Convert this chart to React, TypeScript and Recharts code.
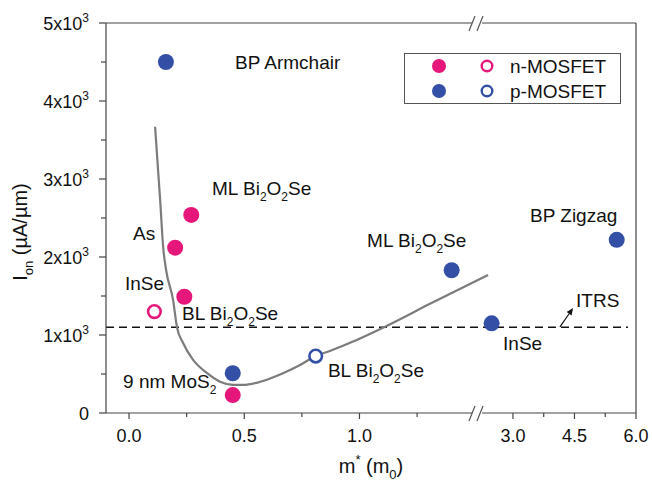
import React from "react";
import {
  ComposedChart,
  XAxis,
  YAxis,
  Scatter,
  Line,
  ReferenceLine,
  ReferenceDot,
  Legend,
} from "recharts";

// m* (in m0) and Ion (µA/µm)
const nFilled = [
  { name: "ML Bi2O2Se", m: 0.27, ion: 2540 },
  { name: "As", m: 0.2, ion: 2120 },
  { name: "BL Bi2O2Se", m: 0.24, ion: 1490 },
  { name: "9 nm MoS2", m: 0.45, ion: 230 },
];
const nOpen = [{ name: "InSe", m: 0.11, ion: 1300 }];
const pFilled = [
  { name: "BP Armchair", m: 0.16, ion: 4500 },
  { name: "9 nm MoS2", m: 0.45, ion: 510 },
  { name: "ML Bi2O2Se", m: 1.4, ion: 1830 },
  { name: "InSe", m: 2.48, ion: 1150 },
  { name: "BP Zigzag", m: 5.53, ion: 2220 },
];
const pOpen = [{ name: "BL Bi2O2Se", m: 0.81, ion: 730 }];

// grey guide curve
const fitM = [0.113, 0.135, 0.148, 0.161, 0.191, 0.208, 0.234, 0.278, 0.339, 0.395, 0.451, 0.495, 0.569, 0.668, 0.742, 0.799, 0.885, 0.959, 1.12, 1.306, 1.558];
const fitIon = [3670, 2730, 2130, 1830, 1450, 1100, 900, 680, 510, 400, 360, 360, 400, 510, 615, 715, 810, 900, 1120, 1400, 1770];

const ITRS = 1100;

const xMajor = [0, 0.5, 1.0, 3.0, 4.5, 6.0];
const xMinor = [0.25, 0.75, 1.25, 3.75, 5.25];
const yMajor = [0, 1000, 2000, 3000, 4000, 5000];
const yMinor = [500, 1500, 2500, 3500, 4500];

const PINK = "#e6177b";
const BLUE = "#3350a6";
const FONT = "'Liberation Sans', Arial, sans-serif";

// broken x axis: 0..~1.5 linear, then 3.0..6.0 compressed
const X_MIN = -0.1;
const X_MAX = 2.2;
const BREAK_AX = 1.51;
const RIGHT_START = 1.666;
const RIGHT_SCALE = 0.178;
const toAxis = (m: number) => (m <= 2 ? m : RIGHT_START + (m - 3) * RIGHT_SCALE);
const fromAxis = (a: number) => (a <= 1.6 ? a : 3 + (a - RIGHT_START) / RIGHT_SCALE);

const pts = (arr: { m: number; ion: number }[]) => arr.map((d) => ({ x: toAxis(d.m), y: d.ion }));
const fitData = fitM.map((m, i) => ({ x: toAxis(m), y: fitIon[i] }));
const xTicks = [...xMajor, ...xMinor].map(toAxis).sort((a, b) => a - b);
const yTicks = [...yMajor, ...yMinor].sort((a, b) => a - b);

// text labels placed in axis coordinates; _{..} subscript, ^{..} superscript
const notes = [
  { text: "BP Armchair", ax: 0.46, y: 4410 },
  { text: "ML Bi_{2}O_{2}Se", ax: 0.36, y: 2795 },
  { text: "As", ax: 0.017, y: 2218 },
  { text: "InSe", ax: -0.018, y: 1577 },
  { text: "BL Bi_{2}O_{2}Se", ax: 0.23, y: 1192 },
  { text: "9 nm MoS_{2}", ax: -0.026, y: 320 },
  { text: "BL Bi_{2}O_{2}Se", ax: 0.863, y: 462 },
  { text: "ML Bi_{2}O_{2}Se", ax: 1.033, y: 2128 },
  { text: "BP Zigzag", ax: 1.74, y: 2449 },
  { text: "InSe", ax: 1.623, y: 808 },
  { text: "ITRS", ax: 1.94, y: 1359 },
];

function rich(str: string, size: number) {
  const parts: React.ReactNode[] = [];
  const re = /([_^])\{([^}]*)\}|([^_^]+)/g;
  let match: RegExpExecArray | null;
  let shift = 0;
  let k = 0;
  while ((match = re.exec(str))) {
    if (match[3]) {
      parts.push(
        <tspan key={k++} dy={-shift} fontSize={size}>
          {match[3]}
        </tspan>
      );
      shift = 0;
    } else {
      const s = match[1] === "_" ? Math.round(size * 0.3) : -Math.round(size * 0.45);
      parts.push(
        <tspan key={k++} dy={s - shift} fontSize={Math.round(size * 0.65)}>
          {match[2]}
        </tspan>
      );
      shift = s;
    }
  }
  return parts;
}

const Note = (props: any) => (
  <text x={props.cx} y={props.cy} fontFamily={FONT} fontSize={19} fill="#111">
    {rich(props.text, 19)}
  </text>
);

const BreakMark = (props: any) => {
  const { cx, cy } = props;
  return (
    <g>
      <rect x={cx - 5} y={cy - 2} width={10} height={4} fill="#fff" />
      <line x1={cx - 8} y1={cy + 8} x2={cx - 2} y2={cy - 7} stroke="#555" strokeWidth={1.2} />
      <line x1={cx} y1={cy + 8} x2={cx + 6} y2={cy - 7} stroke="#555" strokeWidth={1.2} />
    </g>
  );
};

const Arrow = (props: any) => {
  const { x1, y1, x2, y2 } = props;
  const ang = Math.atan2(y2 - y1, x2 - x1);
  const L = 7;
  const W = 3;
  const bx = x2 - L * Math.cos(ang);
  const by = y2 - L * Math.sin(ang);
  const px = -Math.sin(ang) * W;
  const py = Math.cos(ang) * W;
  return (
    <g>
      <line x1={x1} y1={y1} x2={bx} y2={by} stroke="#111" strokeWidth={1.2} />
      <polygon points={`${x2},${y2} ${bx + px},${by + py} ${bx - px},${by - py}`} fill="#111" />
    </g>
  );
};

const XTick = (props: any) => {
  const { x, y, payload } = props;
  const m = fromAxis(payload.value);
  const major = xMajor.some((v) => Math.abs(v - m) < 1e-3);
  return (
    <g>
      <line x1={x} x2={x} y1={y} y2={y + (major ? 6 : 4)} stroke="#444" strokeWidth={1.2} />
      {major && (
        <text x={x} y={y + 29} textAnchor="middle" fontFamily={FONT} fontSize={18} fill="#111">
          {m.toFixed(1)}
        </text>
      )}
    </g>
  );
};

const YTick = (props: any) => {
  const { x, y, payload } = props;
  const v = payload.value;
  const major = yMajor.includes(v);
  return (
    <g>
      <line x1={x - (major ? 7 : 5)} x2={x} y1={y} y2={y} stroke="#444" strokeWidth={1.2} />
      {major && (
        <text x={x - 17} y={y + 7} textAnchor="end" fontFamily={FONT} fontSize={18} fill="#111">
          {v === 0 ? "0" : rich(`${v / 1000}x10^{3}`, 18)}
        </text>
      )}
    </g>
  );
};

const dot = (color: string, open: boolean) => (p: any) =>
  open ? (
    <circle cx={p.cx} cy={p.cy} r={6.3} fill="#fff" stroke={color} strokeWidth={2.6} />
  ) : (
    <circle cx={p.cx} cy={p.cy} r={8} fill={color} />
  );

const legendRows = [
  { label: "n-MOSFET", color: PINK },
  { label: "p-MOSFET", color: BLUE },
];

const LegendBox = () => (
  <div style={{ width: 217, height: 51, border: "1px solid #555", boxSizing: "border-box", background: "#fff" }}>
    <svg width={215} height={49}>
      {legendRows.map((r, i) => (
        <g key={r.label}>
          <circle cx={34} cy={12 + i * 25} r={7} fill={r.color} />
          <circle cx={82} cy={12 + i * 25} r={5.3} fill="#fff" stroke={r.color} strokeWidth={2.4} />
          <text x={105} y={19 + i * 25} fontFamily={FONT} fontSize={19} fill="#111">
            {r.label}
          </text>
        </g>
      ))}
    </svg>
  </div>
);

export default function App() {
  return (
    <div style={{ position: "absolute", left: 0, top: 0, background: "#fff" }}>
      <ComposedChart width={652} height={483} margin={{ top: 23, right: 16, left: 0, bottom: 0 }}>
        <XAxis
          type="number"
          dataKey="x"
          domain={[X_MIN, X_MAX]}
          ticks={xTicks}
          interval={0}
          tickSize={0}
          tickMargin={0}
          tickLine={false}
          tick={<XTick />}
          height={70}
          stroke="#444"
          strokeWidth={1.2}
          allowDataOverflow
          label={{
            content: (p: any) => (
              <text
                x={p.viewBox.x + p.viewBox.width / 2}
                y={p.viewBox.y + 60}
                textAnchor="middle"
                fontFamily={FONT}
                fontSize={20}
                fill="#111"
              >
                {rich("m^{*} (m_{0})", 20)}
              </text>
            ),
          }}
        />
        <YAxis
          type="number"
          dataKey="y"
          domain={[0, 5000]}
          ticks={yTicks}
          interval={0}
          tickSize={0}
          tickMargin={0}
          tickLine={false}
          tick={<YTick />}
          width={106}
          stroke="#444"
          strokeWidth={1.2}
          allowDataOverflow
          label={{
            content: (p: any) => (
              <text
                x={27}
                y={p.viewBox.y + 209}
                transform={`rotate(-90, 27, ${p.viewBox.y + 209})`}
                textAnchor="middle"
                fontFamily={FONT}
                fontSize={20}
                fill="#111"
              >
                {rich("I_{on} (µA/µm)", 20)}
              </text>
            ),
          }}
        />
        <ReferenceLine y={5000} stroke="#444" strokeWidth={1.2} />
        <ReferenceLine x={X_MAX} stroke="#444" strokeWidth={1.2} />
        <ReferenceLine
          segment={[
            { x: X_MIN, y: ITRS },
            { x: 2.165, y: ITRS },
          ]}
          stroke="#111"
          strokeWidth={1.5}
          strokeDasharray="8 5"
        />
        <ReferenceLine
          segment={[
            { x: 1.87, y: 1103 },
            { x: 1.927, y: 1346 },
          ]}
          shape={<Arrow />}
        />
        <Line
          data={fitData}
          dataKey="y"
          type="monotone"
          stroke="#7c7c7c"
          strokeWidth={2.2}
          dot={false}
          activeDot={false}
          isAnimationActive={false}
        />
        <Scatter name="n-MOSFET" data={pts(nFilled)} shape={dot(PINK, false)} isAnimationActive={false} />
        <Scatter name="n-MOSFET open" data={pts(nOpen)} shape={dot(PINK, true)} isAnimationActive={false} />
        <Scatter name="p-MOSFET" data={pts(pFilled)} shape={dot(BLUE, false)} isAnimationActive={false} />
        <Scatter name="p-MOSFET open" data={pts(pOpen)} shape={dot(BLUE, true)} isAnimationActive={false} />
        {notes.map((n, i) => (
          <ReferenceDot
            key={i}
            x={n.ax}
            y={n.y}
            ifOverflow="visible"
            shape={(p: any) => <Note {...p} text={n.text} />}
          />
        ))}
        <ReferenceDot x={BREAK_AX} y={5000} ifOverflow="visible" shape={<BreakMark />} />
        <ReferenceDot x={BREAK_AX} y={0} ifOverflow="visible" shape={<BreakMark />} />
        <Legend
          layout="horizontal"
          verticalAlign="middle"
          align="center"
          content={<LegendBox />}
          wrapperStyle={{ position: "absolute", left: 404, top: 53, width: 217, height: 51 }}
        />
      </ComposedChart>
    </div>
  );
}
